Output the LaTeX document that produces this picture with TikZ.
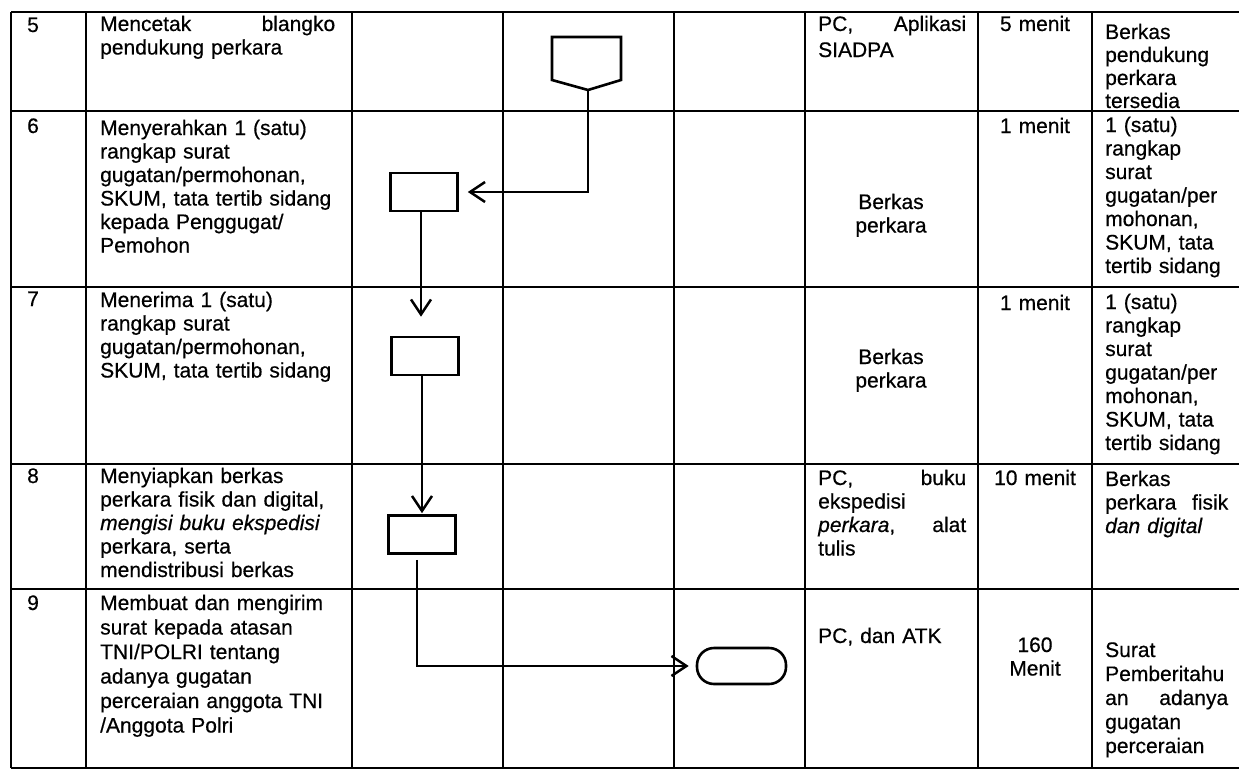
\documentclass[tikz,border=0pt]{standalone}
\usepackage{fontspec}
\setmainfont{Liberation Sans}[UprightFeatures={FakeBold=0.5},ItalicFeatures={FakeBold=0.5}]
\usetikzlibrary{arrows.meta}
\begin{document}
\begin{tikzpicture}[x=1pt,y=-1pt,
  grid/.style={line width=1.7pt},
  shp/.style={draw, line width=2.6pt, inner sep=0pt},
  box/.style={shp, minimum width=67pt, minimum height=38pt},
  term/.style={shp, rounded corners=17pt, minimum width=89pt, minimum height=36pt},
  conn/.style={line width=2.5pt, -{Straight Barb[length=15pt,width=20pt]}},
  txt/.style={inner sep=0pt, anchor=base west, align=left, font=\fontsize{21}{23.5}\selectfont},
  ctr/.style={inner sep=0pt, anchor=base, align=center, text width=150pt, font=\fontsize{21}{23.5}\selectfont},
]
\useasboundingbox (0,0) rectangle (1239,776);
\fill[white] (0,0) rectangle (1239,776);
% table grid
\foreach \y in {12,111,287,464,589,768} \draw[grid] (11,\y) -- (1239,\y);
\foreach \x in {11,86,352,503,674,805,978,1092} \draw[grid] (\x,12) -- (\x,768);

% row 5
\node[txt] (n5) at (27,32) {5};
\node[txt, text width=235pt] (d5) at (100,31) {Mencetak\hfill blangko\\pendukung perkara};
\node[txt, text width=148pt, font=\fontsize{21}{26}\selectfont] (k5) at (818,31) {PC,\hfill Aplikasi\\SIADPA};
\node[ctr] (w5) at (1035,31) {5 menit};
\node[txt, text width=123pt, font=\fontsize{21}{23}\selectfont] (o5) at (1105,39) {Berkas\\pendukung\\perkara\\tersedia};

% row 6
\node[txt] (n6) at (27,133) {6};
\node[txt, text width=235pt] (d6) at (100,135) {Menyerahkan 1 (satu)\\rangkap surat\\gugatan/permohonan,\\SKUM, tata tertib sidang\\kepada Penggugat/\\Pemohon};
\node[ctr] (k6) at (891,209) {Berkas\\perkara};
\node[ctr] (w6) at (1035,133) {1 menit};
\node[txt, text width=123pt] (o6) at (1105,132) {1 (satu)\\rangkap\\surat\\gugatan/per\\mohonan,\\SKUM, tata\\tertib sidang};

% row 7
\node[txt] (n7) at (27,306) {7};
\node[txt, text width=235pt] (d7) at (100,307) {Menerima 1 (satu)\\rangkap surat\\gugatan/permohonan,\\SKUM, tata tertib sidang};
\node[ctr] (k7) at (891,364) {Berkas\\perkara};
\node[ctr] (w7) at (1035,310) {1 menit};
\node[txt, text width=123pt] (o7) at (1105,309) {1 (satu)\\rangkap\\surat\\gugatan/per\\mohonan,\\SKUM, tata\\tertib sidang};

% row 8
\node[txt] (n8) at (27,483) {8};
\node[txt, text width=235pt] (d8) at (100,483) {Menyiapkan berkas\\perkara fisik dan digital,\\\textit{mengisi buku ekspedisi}\\perkara, serta\\mendistribusi berkas};
\node[txt, text width=148pt] (k8) at (818,485) {PC,\hfill buku\\ekspedisi\\\textit{perkara},\hfill alat\\tulis};
\node[ctr] (w8) at (1035,485) {10 menit};
\node[txt, text width=123pt] (o8) at (1105,486) {Berkas\\perkara\hfill fisik\\\textit{dan digital}};

% row 9
\node[txt] (n9) at (27,610) {9};
\node[txt, text width=235pt, font=\fontsize{21}{24.5}\selectfont] (d9) at (100,610) {Membuat dan mengirim\\surat kepada atasan\\TNI/POLRI tentang\\adanya gugatan\\perceraian anggota TNI\\/Anggota Polri};
\node[txt, text width=148pt] (k9) at (818,643) {PC, dan ATK};
\node[ctr] (w9) at (1035,652) {160\\Menit};
\node[txt, text width=123pt, font=\fontsize{21}{24}\selectfont] (o9) at (1105,657) {Surat\\Pemberitahu\\an\hfill adanya\\gugatan\\perceraian};

% flow shapes
\draw[shp, line join=miter] (552,37) -- (621,37) -- (621,80) -- (588,90) -- (552,80) -- cycle;
\coordinate (offtip) at (588,90);
\node[box] (b1) at (424,192) {};
\node[box] (b2) at (425,356) {};
\node[box] (b3) at (422,534.5) {};
\node[term] (t9) at (741.5,666) {};

% connectors
\draw[conn, shorten >=9pt] (offtip) |- (b1.east);
\draw[conn, shorten >=19pt] ([xshift=-3pt]b1.south) -- ([xshift=-3pt]b1.south |- b2.north);
\draw[conn, shorten >=1pt] ([xshift=-3pt]b2.south) -- ([xshift=-3pt]b2.south |- b3.north);
\draw[conn, shorten <=5pt, shorten >=7pt] ([xshift=-5pt]b3.south) |- (t9.west);
\end{tikzpicture}
\end{document}
